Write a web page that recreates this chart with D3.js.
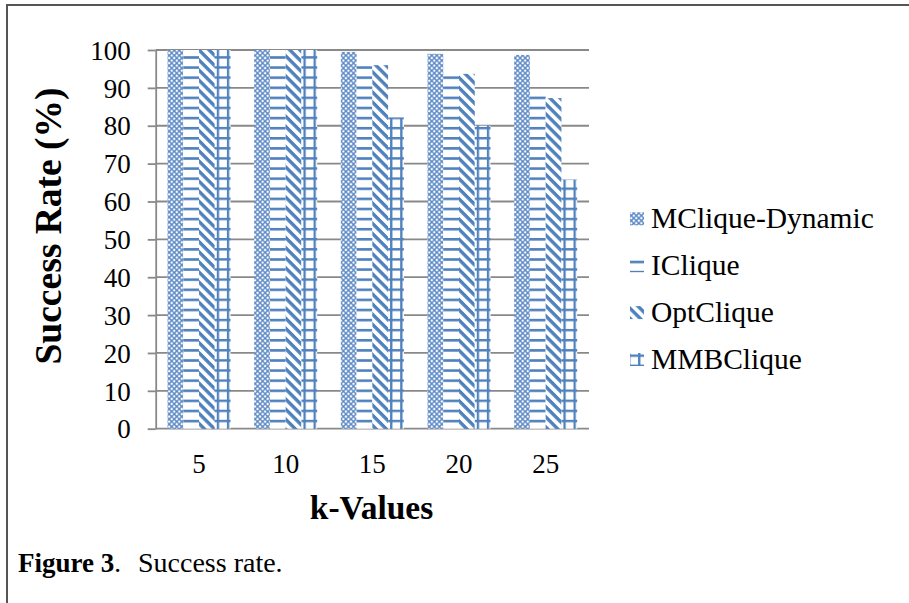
<!DOCTYPE html>
<html>
<head>
<meta charset="utf-8">
<script src="https://cdn.jsdelivr.net/npm/d3@7"></script>
<style>
  html, body { margin: 0; padding: 0; background: #fff; }
  svg { display: block; }
  text { font-family: "Liberation Serif", "Times New Roman", serif; fill: #000; }
</style>
</head>
<body>
<svg id="chart" width="909" height="603"></svg>
<script>
// k values on the category axis
const categories = ["5", "10", "15", "20", "25"];
const seriesNames = ["MClique-Dynamic", "IClique", "OptClique", "MMBClique"];

// success rate (%) per k value
const mcliqueDynamic = [100, 100, 99.5, 99, 98.7];
const iclique        = [100, 100, 96, 93.3, 88];
const optclique      = [100, 100, 96, 93.7, 87.3];
const mmbclique      = [100, 100, 82.2, 80, 65.8];

const yTicks = [0, 10, 20, 30, 40, 50, 60, 70, 80, 90, 100];

const seriesValues = [mcliqueDynamic, iclique, optclique, mmbclique];

const W = 909, H = 603;
const blue = "#4f81bd";
const gridColor = "#898989";

const svg = d3.select("#chart");
svg.append("rect").attr("width", W).attr("height", H).attr("fill", "#fff");

// figure frame (left and top rules)
svg.append("path")
  .attr("d", `M7,${H}V5H${W}`)
  .attr("fill", "none")
  .attr("stroke", "#555")
  .attr("stroke-width", 2);

const plot = { left: 155.7, right: 589, top: 50, bottom: 428.7 };

const y = d3.scaleLinear().domain([0, 100]).range([plot.bottom, plot.top]);
const x0 = d3.scaleBand().domain(categories)
  .range([plot.left, plot.right])
  .paddingInner(0.273).paddingOuter(0.1365);
const x1 = d3.scaleBand().domain(seriesNames).range([0, x0.bandwidth()]);

// ---- fill patterns ----
const defs = svg.append("defs");
const P = 10.1;

// dotted diamond lattice
const pDyn = defs.append("pattern").attr("id", "pat-0")
  .attr("patternUnits", "userSpaceOnUse").attr("width", P / 2).attr("height", P / 2);
pDyn.append("rect").attr("width", P / 2).attr("height", P / 2).attr("fill", "#5a88c4");
[[0, 0], [P / 2, 0], [0, P / 2], [P / 2, P / 2], [P / 4, P / 4]].forEach(([cx, cy]) => {
  pDyn.append("circle").attr("cx", cx).attr("cy", cy).attr("r", 1.25).attr("fill", "#fff");
});

// horizontal lines
const pH = defs.append("pattern").attr("id", "pat-1")
  .attr("patternUnits", "userSpaceOnUse").attr("y", 5.7)
  .attr("width", P).attr("height", P);
pH.append("rect").attr("width", P).attr("height", P).attr("fill", "#fff");
pH.append("rect").attr("y", 0).attr("width", P).attr("height", 2.6).attr("fill", blue);

// wide downward diagonal
const pD = defs.append("pattern").attr("id", "pat-2")
  .attr("patternUnits", "userSpaceOnUse")
  .attr("width", 7.14).attr("height", 7.14)
  .attr("patternTransform", "rotate(45)");
pD.append("rect").attr("width", 7.14).attr("height", 7.14).attr("fill", "#fff");
pD.append("rect").attr("width", 7.14).attr("height", 3.4).attr("fill", blue);

// grid, anchored to the left edge of each shape that uses it
function gridPattern(id, left) {
  const g = defs.append("pattern").attr("id", id)
    .attr("patternUnits", "userSpaceOnUse").attr("x", left + 2).attr("y", 5.7)
    .attr("width", P).attr("height", P);
  g.append("rect").attr("width", P).attr("height", P).attr("fill", "#fff");
  g.append("rect").attr("width", P).attr("height", 2.4).attr("fill", blue);
  g.append("rect").attr("width", 2.3).attr("height", P).attr("fill", blue);
  return `url(#${id})`;
}

// ---- gridlines ----
svg.append("g")
  .selectAll("line")
  .data(yTicks)
  .join("line")
  .attr("x1", plot.left).attr("x2", plot.right)
  .attr("y1", d => y(d)).attr("y2", d => y(d))
  .attr("stroke", gridColor).attr("stroke-width", 1.8);

// ---- bars ----
const bars = [];
categories.forEach((c, i) => {
  seriesNames.forEach((s, j) => {
    bars.push({ cat: c, s, j, v: seriesValues[j][i], left: x0(c) + x1(s) });
  });
});

svg.append("g")
  .selectAll("rect")
  .data(bars)
  .join("rect")
  .attr("x", d => d.left)
  .attr("width", x1.bandwidth())
  .attr("y", d => y(d.v))
  .attr("height", d => y(0) - y(d.v))
  .attr("fill", d => d.j === 3 ? gridPattern(`grid-${d.cat}`, d.left) : `url(#pat-${d.j})`);

// ---- y axis ----
const yAxis = svg.append("g")
  .attr("transform", `translate(${plot.left},0)`)
  .call(d3.axisLeft(y).tickValues(yTicks).tickSize(8).tickSizeOuter(0).tickPadding(17));
yAxis.select(".domain").attr("stroke", gridColor).attr("stroke-width", 1.8);
yAxis.selectAll(".tick line").attr("stroke", gridColor).attr("stroke-width", 1.8);
yAxis.selectAll(".tick text")
  .attr("font-family", "'Liberation Serif', 'Times New Roman', serif")
  .attr("font-size", 27).attr("fill", "#000").attr("dy", "0.34em");

// ---- x axis ----
const xAxis = svg.append("g")
  .attr("transform", `translate(0,${plot.bottom})`)
  .call(d3.axisBottom(x0).tickSize(0));
xAxis.select(".domain").remove();
xAxis.selectAll(".tick text")
  .attr("font-family", "'Liberation Serif', 'Times New Roman', serif")
  .attr("font-size", 27).attr("fill", "#000")
  .attr("y", 44).attr("dy", null);

// ---- axis titles ----
svg.append("text")
  .attr("transform", `translate(61,226) rotate(-90)`)
  .attr("text-anchor", "middle")
  .attr("font-size", 37.5).attr("font-weight", "bold")
  .text("Success Rate (%)");

svg.append("text")
  .attr("x", 371.5).attr("y", 519)
  .attr("text-anchor", "middle")
  .attr("font-size", 33.5).attr("font-weight", "bold")
  .text("k-Values");

// ---- legend ----
const legendBaselines = [228.3, 275.2, 322.1, 369];
const legend = svg.append("g")
  .selectAll("g")
  .data(seriesNames)
  .join("g")
  .attr("transform", (d, i) => `translate(0,${legendBaselines[i]})`);
legend.append("rect")
  .attr("x", 630).attr("y", -16).attr("width", 14).attr("height", 13)
  .attr("fill", (d, i) => i === 3 ? gridPattern("grid-legend", 626) : `url(#pat-${i})`);
legend.append("text")
  .attr("x", 651).attr("y", 0)
  .attr("font-size", 29.5)
  .text(d => d);

// ---- caption ----
const cap = svg.append("text").attr("x", 18).attr("y", 572).attr("font-size", 27);
cap.append("tspan").attr("font-weight", "bold").text("Figure 3");
cap.append("tspan").text(".");
cap.append("tspan").attr("x", 138).attr("font-size", 28).text("Success rate.");
</script>
</body>
</html>
